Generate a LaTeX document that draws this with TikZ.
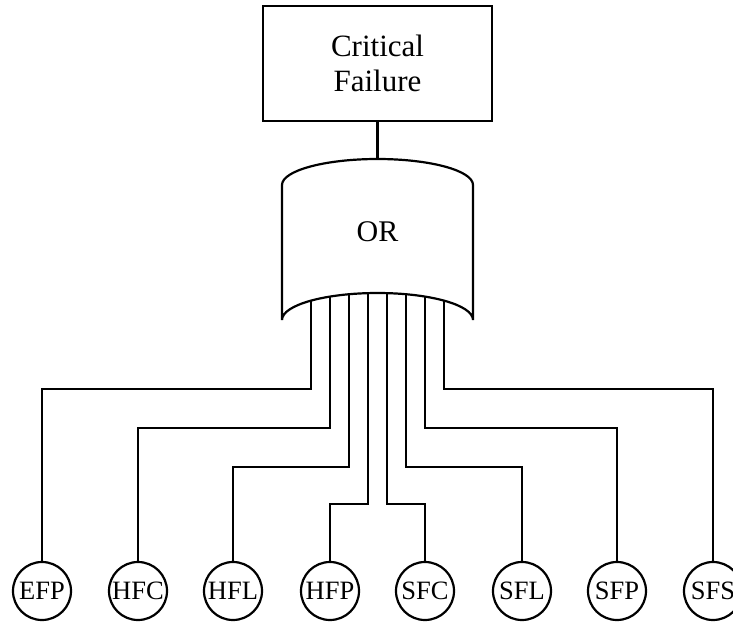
\documentclass[tikz,border=0pt]{standalone}
\usepackage{fontspec}
\setmainfont{Liberation Serif}
\begin{document}
\begin{tikzpicture}[x=1pt,y=1pt,line width=2.2pt,
    evento/.style={draw,circle,minimum size=58pt,inner sep=0pt,font=\fontsize{26.5}{28}\selectfont},
    tope/.style={draw,minimum width=229pt,minimum height=115pt,align=center,font=\fontsize{31}{35}\selectfont}] %Arbol de fallos
        \useasboundingbox (0,0) rectangle (733,-621);

        \node[tope] (F) at (377.5,-63.5) {Critical\\Failure};

        % compuerta OR
        \coordinate (G) at (377.5,-159);
        \draw (282,-320) -- (282,-185) arc (180:0:95.5 and 26) -- (473,-320) arc (0:180:95.5 and 27) -- cycle;
        \node[font=\fontsize{30}{34}\selectfont] (OR) at (377.5,-232) {OR};
        \draw (F.south) -- (G);

        % eventos basicos
        \foreach \nombre/\x in {EFP/42,HFC/138,HFL/233,HFP/330,SFC/425,SFL/522,SFP/617,SFS/713}
            \node[evento] (\nombre) at (\x,-591) {\nombre};

        \foreach \nombre/\xa/\ya in {EFP/311/389,HFC/330/428,HFL/349/467,HFP/368/504,SFC/387/504,SFL/406/467,SFP/425/428,SFS/444/389} {
            \pgfmathsetmacro{\ytop}{-320+27*sqrt(1-((\xa-377.5)/95.5)^2)}
            \draw (\xa,\ytop) -- (\xa,-\ya) -| (\nombre.north);
        }
    \end{tikzpicture}
\end{document}
